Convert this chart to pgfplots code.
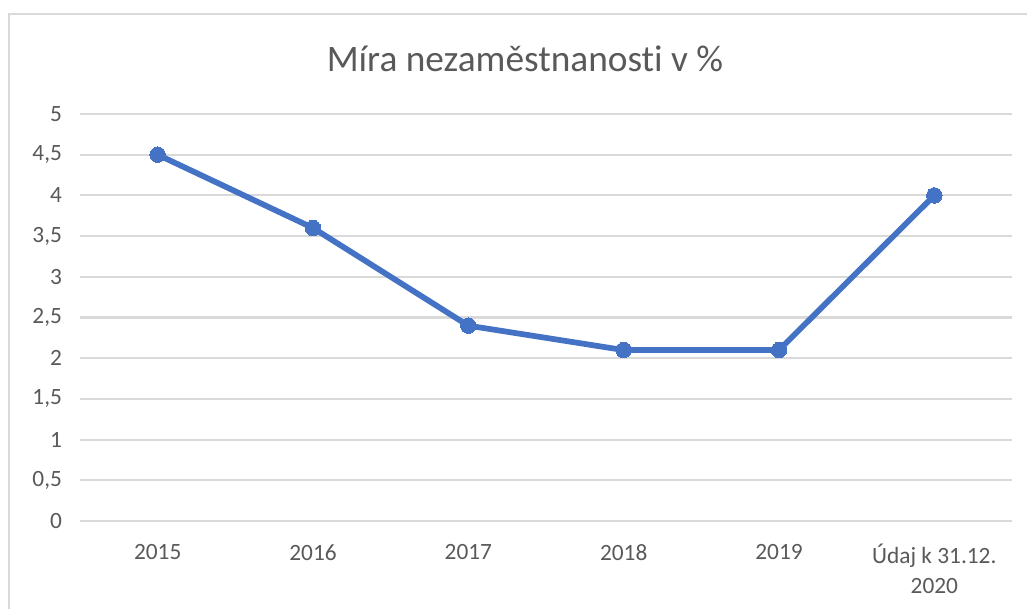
\documentclass[border=0pt]{standalone}
\usepackage{pgfplots}
\pgfplotsset{compat=1.18}
\usepackage{fontspec}
\setmainfont{Carlito}[Ligatures=NoCommon]
\definecolor{txtgray}{HTML}{595959}
\definecolor{gridgray}{HTML}{D9D9D9}
\definecolor{xlblue}{HTML}{4472C4}

\begin{document}
\begin{tikzpicture}[x=0.75pt,y=0.75pt]
\useasboundingbox (0,0) rectangle (1027,608);
\begin{scope}
\clip (0,0) rectangle (1027,608);
\draw[gridgray, line width=2.2pt] (9,-50) -- (9,594) -- (1100,594);
\end{scope}
\node[txtgray, font=\fontsize{28}{33}\selectfont] at (525,549) {Míra nezaměstnanosti v \%};
\begin{axis}[
  at={(60pt,65.25pt)}, anchor=south west,
  scale only axis, width=699pt, height=305.25pt,
  xmin=-0.5, xmax=5.5, ymin=0, ymax=5,
  axis line style={draw=none},
  xtick={0,...,5},
  xticklabels={2015,2016,2017,2018,2019,{Údaj k 31.12.\\2020}},
  xticklabel style={align=center, text=txtgray, font=\fontsize{17.5}{22}\selectfont},
  ytick={0,0.5,...,5},
  yticklabels={0,{0,5},1,{1,5},2,{2,5},3,{3,5},4,{4,5},5},
  yticklabel style={text=txtgray, font=\fontsize{17.5}{21}\selectfont},
  major tick length=0pt,
  ymajorgrids, grid style={gridgray, line width=1.6pt},
  xticklabel shift=14pt, yticklabel shift=10pt,
  clip=false,
]
\addplot[color=xlblue, line width=4.3pt, mark=*, mark size=5.8pt, mark options={fill=xlblue, draw=xlblue, line width=0pt}]
  coordinates {(0,4.5) (1,3.6) (2,2.4) (3,2.1) (4,2.1) (5,4.0)};
\end{axis}
\end{tikzpicture}
\end{document}
